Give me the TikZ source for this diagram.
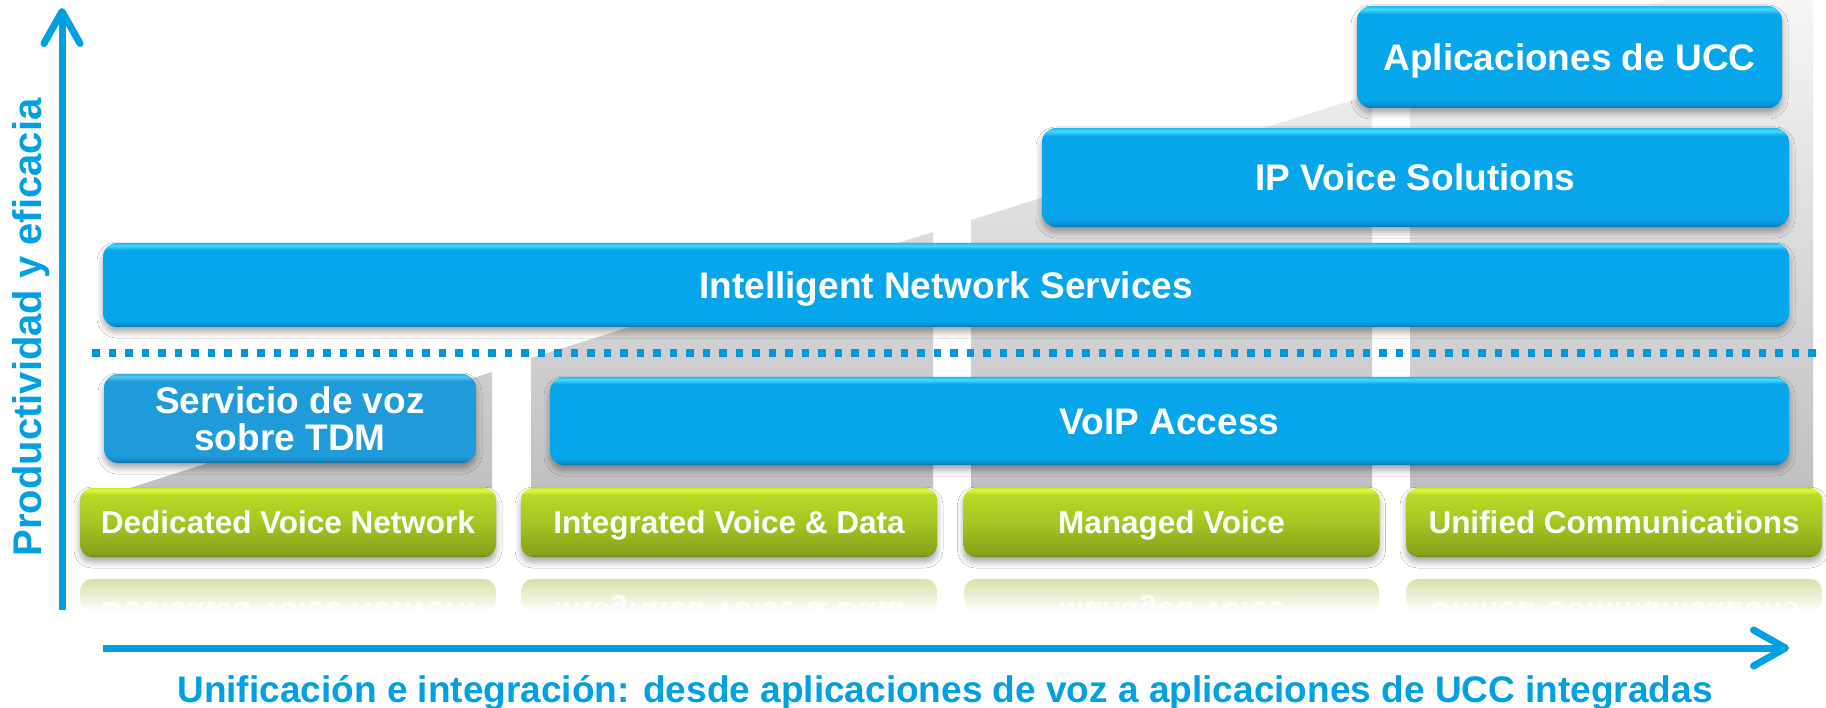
\documentclass[tikz,border=0pt]{standalone}
\usepackage{fontspec}
\setmainfont{Liberation Sans}
\usetikzlibrary{arrows.meta,shadows.blur}
\definecolor{axisblue}{RGB}{0,160,226}
\definecolor{dotblue}{RGB}{0,152,220}
\definecolor{bbMain}{RGB}{7,166,234}
\definecolor{bbDark}{RGB}{10,118,172}
\definecolor{bbLow}{RGB}{6,146,210}
\definecolor{bbHi}{RGB}{70,218,252}
\definecolor{bbTop}{RGB}{30,185,240}
\definecolor{sbMain}{RGB}{30,155,216}
\definecolor{sbDark}{RGB}{20,108,158}
\definecolor{sbLow}{RGB}{25,136,194}
\definecolor{sbHi}{RGB}{85,198,242}
\definecolor{sbTop}{RGB}{50,172,226}
\definecolor{gbDark}{RGB}{100,126,18}
\definecolor{gbLow}{RGB}{132,162,26}
\definecolor{gbMid}{RGB}{165,198,34}
\definecolor{gbUp}{RGB}{182,218,38}
\definecolor{gbHi}{RGB}{228,246,62}
\definecolor{gbTop}{RGB}{200,232,48}
\definecolor{refgreen}{RGB}{214,226,168}
\definecolor{colTop}{RGB}{246,246,246}
\definecolor{colBot}{RGB}{192,192,192}
\pgfdeclareverticalshading{bluebar}{100bp}{color(0bp)=(bbDark); color(25bp)=(bbDark); color(26.5bp)=(bbLow); color(29bp)=(bbMain); color(71bp)=(bbMain); color(73.5bp)=(bbHi); color(75bp)=(bbTop); color(100bp)=(bbTop)}
\pgfdeclareverticalshading{servbar}{100bp}{color(0bp)=(sbDark); color(25bp)=(sbDark); color(26.5bp)=(sbLow); color(29bp)=(sbMain); color(71bp)=(sbMain); color(73.5bp)=(sbHi); color(75bp)=(sbTop); color(100bp)=(sbTop)}
\pgfdeclareverticalshading{greenbar}{100bp}{color(0bp)=(gbDark); color(25bp)=(gbDark); color(27bp)=(gbLow); color(50bp)=(gbMid); color(70bp)=(gbUp); color(73.5bp)=(gbHi); color(75bp)=(gbTop); color(100bp)=(gbTop)}
\tikzset{
  boxbase/.style={shade, rounded corners=14pt, inner sep=0pt, text=white,
    font=\bfseries\fontsize{37}{37}\selectfont,
    blur shadow={shadow xshift=0pt, shadow yshift=-5pt, shadow blur radius=6pt, shadow opacity=35}},
  bluebox/.style={boxbase, shading=bluebar, text height=27pt, text depth=0pt},
  servbox/.style={boxbase, shading=servbar, align=center},
  greenbox/.style={boxbase, rounded corners=12pt, shading=greenbar,
    font=\bfseries\fontsize{31.5}{31.5}\selectfont, text height=22.5pt, text depth=0pt,
    minimum width=416pt, minimum height=69pt},
  reflbox/.style={top color=refgreen, bottom color=white, rounded corners=12pt},
  refltext/.style={anchor=base, text=white, text opacity=0.85, font=\bfseries\fontsize{31.5}{31.5}\selectfont, inner sep=0pt},
  axis/.style={axisblue, line width=7pt, -{Straight Barb[length=32pt, width=36pt, round]}},
  axislabel/.style={text=axisblue, inner sep=0pt, anchor=base},
}
\begin{document}
\begin{tikzpicture}[x=1pt, y=-1pt]
\useasboundingbox (0,0) rectangle (1826,708);
\fill[white] (0,0) rectangle (1826,708);
% gray stair columns
\begin{scope}
  \clip (130,488) -- (492,372) -- (492,488) -- cycle
        (531,488) -- (531,358) -- (933,232) -- (933,488) -- cycle
        (971,488) -- (971,220) -- (1372,94) -- (1372,488) -- cycle
        (1410,488) -- (1410,80) -- (1668,0) -- (1813,0) -- (1813,488) -- cycle;
  \shade[top color=colTop, bottom color=colBot] (0,0) rectangle (1826,488);
\end{scope}
% dotted separator
\coordinate (d1) at (92,353);
\coordinate (d2) at (1817,353);
\draw[dotblue, line width=7.5pt, dash pattern=on 7.5pt off 9pt] (d1) -- (d2);
% blue boxes
\node[bluebox, minimum width=425pt, minimum height=102pt] (apl) at (1569.5,57) {Aplicaciones de UCC};
\node[bluebox, minimum width=747pt, minimum height=99pt] (ipv) at (1415.5,177.5) {IP Voice Solutions};
\node[bluebox, minimum width=1686pt, minimum height=84pt] (ins) at (946,285) {Intelligent Network Services};
\node[servbox, minimum width=372pt, minimum height=89pt, font=\bfseries\fontsize{37}{37}\selectfont] (serv) at (290,418.5) {Servicio de voz\\sobre TDM};
\node[bluebox, minimum width=1239pt, minimum height=88pt] (voip) at (1169.5,421) {VoIP Access};
% reflections
\shade[reflbox] (80,579) rectangle (496,612);
\shade[reflbox] (521,579) rectangle (937,612);
\shade[reflbox] (964,579) rectangle (1379,612);
\shade[reflbox] (1406,579) rectangle (1822,612);
\node[refltext] (r1) at (288,602) {\scalebox{1}[-1]{Dedicated Voice Network}};
\node[refltext] (r2) at (729,602) {\scalebox{1}[-1]{Integrated Voice \& Data}};
\node[refltext] (r3) at (1171.5,602) {\scalebox{1}[-1]{Managed Voice}};
\node[refltext] (r4) at (1614,602) {\scalebox{1}[-1]{Unified Communications}};
\fill[white] (70,612) rectangle (1826,640);
% green boxes
\node[greenbox] (g1) at (288,522.5) {Dedicated Voice Network};
\node[greenbox] (g2) at (729,522.5) {Integrated Voice \& Data};
\node[greenbox] (g3) at (1171.5,522.5) {Managed Voice};
\node[greenbox] (g4) at (1614,522.5) {Unified Communications};
% axes
\coordinate (yb) at (62,610);
\coordinate (yt) at (62,8);
\coordinate (xb) at (103,648);
\coordinate (xt) at (1789,648);
\draw[axis] (yb) -- (yt);
\draw[axis] (xb) -- (xt);
\node[axislabel, rotate=90, font=\bfseries\fontsize{40}{40}\selectfont] (ylab) at (41,327.5) {Productividad y eficacia};
\node[axislabel, font=\bfseries\fontsize{37}{37}\selectfont] (xlab) at (945,702) {Unificación e integración: desde aplicaciones de voz a aplicaciones de UCC integradas};
\end{tikzpicture}
\end{document}
